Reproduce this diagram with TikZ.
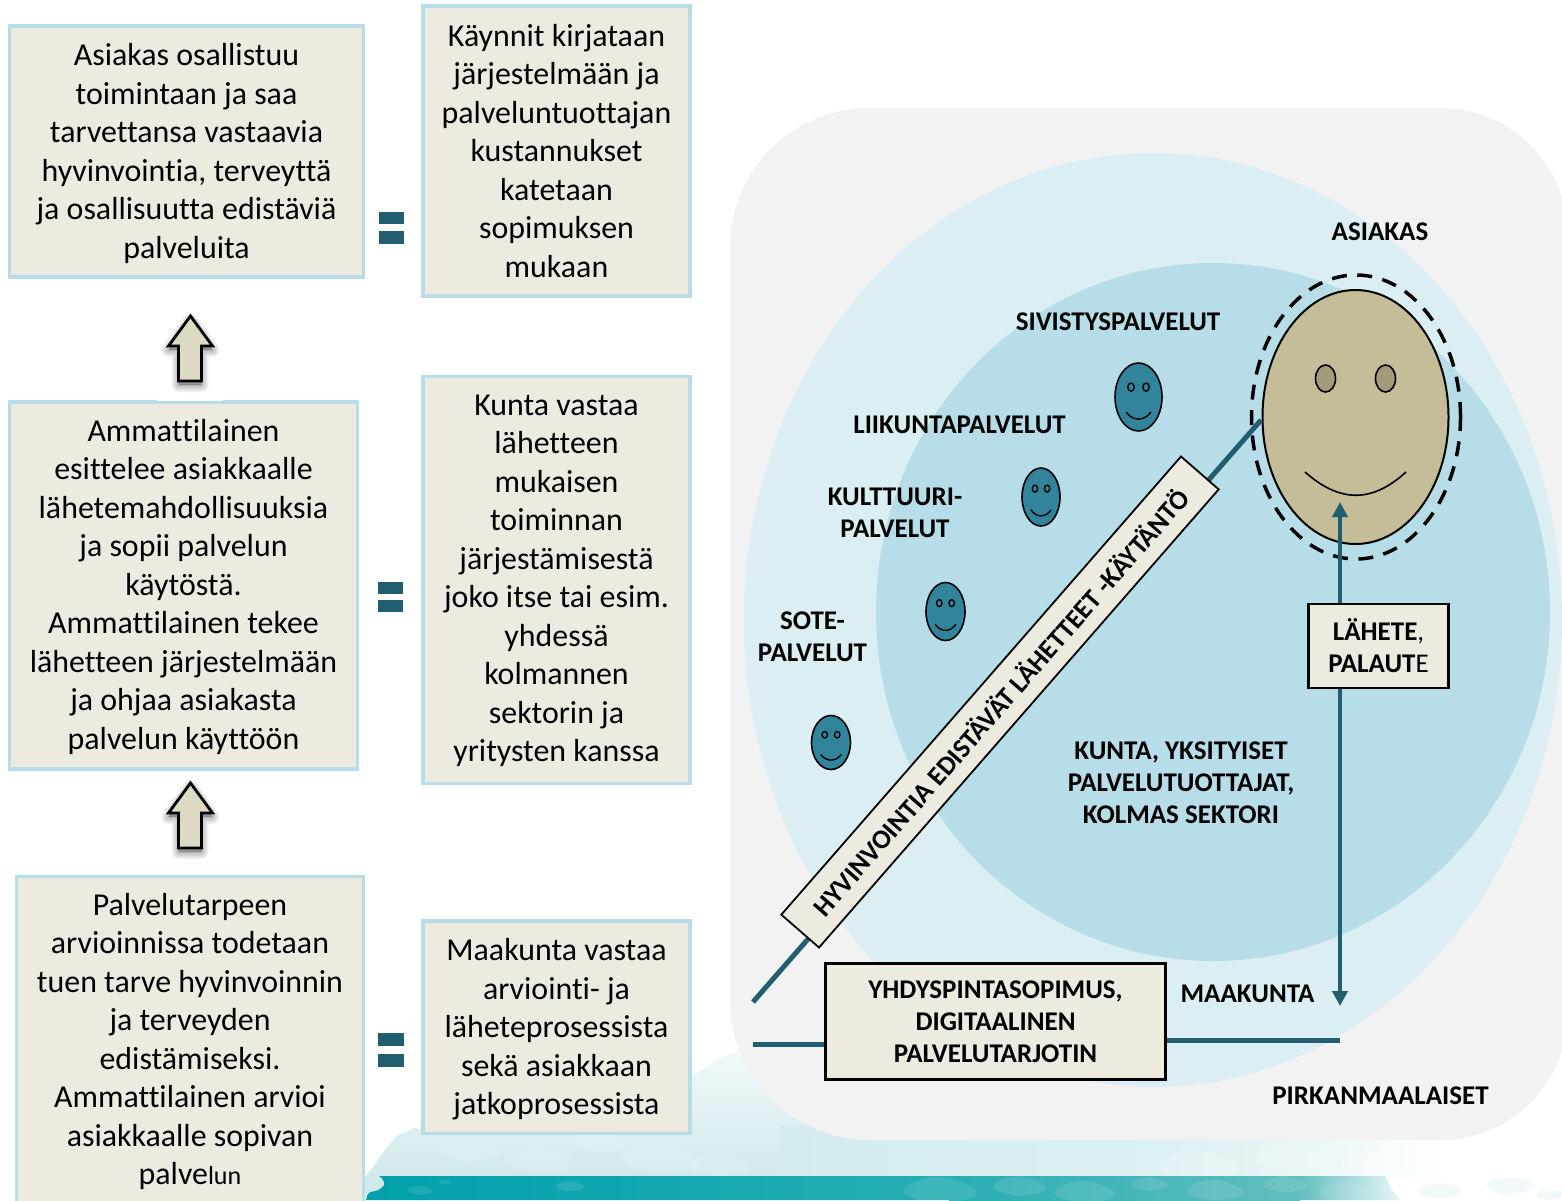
\documentclass[tikz,border=0pt]{standalone}
\usepackage{fontspec}
\setmainfont[Ligatures=CommonOff]{Carlito}
\usetikzlibrary{shapes.geometric,arrows.meta,calc}
\definecolor{boxfill}{HTML}{EDEBE0}
\definecolor{boxedge}{HTML}{B7DDE8}
\definecolor{teal}{HTML}{215F70}
\definecolor{panel}{HTML}{F2F2F2}
\definecolor{outer}{HTML}{DBEEF4}
\definecolor{inner}{HTML}{B7DDE8}
\definecolor{face}{HTML}{C4BD97}
\definecolor{eye}{HTML}{A29A78}
\definecolor{small}{HTML}{31849B}
\definecolor{arrowfill}{HTML}{DDD9C3}
\definecolor{bandA}{HTML}{00A0AC}
\definecolor{bandB}{HTML}{28AEB4}
\definecolor{bandC}{HTML}{62BEBE}
\definecolor{washA}{HTML}{D2E9EC}
\definecolor{washB}{HTML}{DDF0F2}
\definecolor{washC}{HTML}{E8F5F6}
\definecolor{washTop}{HTML}{F1F9FA}
\tikzset{
  x=1pt,y=-1pt,
  infobox/.style={draw=boxedge,line width=3.5pt,fill=boxfill,inner sep=0pt,align=center,
    font=\fontsize{31.9}{38.5}\selectfont},
  blackbox/.style={draw=black,line width=2.2pt,fill=boxfill,inner sep=0pt,align=center,
    font=\fontsize{27}{32}\selectfont\bfseries},
  lab/.style={inner sep=0pt,align=center,font=\fontsize{27}{32}\selectfont\bfseries},
  tealline/.style={draw=teal,line width=5pt},
  eqbar/.style={fill=teal,draw=none,inner sep=0pt},
  faceoval/.style={ellipse,draw=black,inner sep=0pt},
  smalloval/.style={faceoval,fill=small,line width=1.6pt},
  blockarrow/.style={fill=arrowfill,draw=black,line width=2.8pt,line join=miter},
}
\newcommand{\lowered}[2]{\vbox{\vskip #1pt\hbox{\begin{tabular}{@{}c@{}}#2\end{tabular}}}}
\newcommand{\smallface}[5]{% x y rx ry name
  \node[smalloval,minimum width=#3*2pt,minimum height=#4*2pt] (#5) at (#1,#2) {};
  \node[ellipse,draw=black,fill=small,line width=1.4pt,minimum width=0.28*#3pt,minimum height=0.24*#4pt,inner sep=0pt] (#5l) at ($(#1,#2)+(-0.32*#3,-0.29*#4)$) {};
  \node[ellipse,draw=black,fill=small,line width=1.4pt,minimum width=0.28*#3pt,minimum height=0.24*#4pt,inner sep=0pt] (#5r) at ($(#1,#2)+(0.32*#3,-0.29*#4)$) {};
  \draw[line width=1.4pt] ($(#1,#2)+(-0.53*#3,0.44*#4)$) .. controls ($(#1,#2)+(-0.25*#3,0.72*#4)$) and ($(#1,#2)+(0.25*#3,0.72*#4)$) .. ($(#1,#2)+(0.53*#3,0.44*#4)$);
}
\newcommand{\blockup}[2]{% x of tip, y of tip
  \foreach \w in {14,11,8,5,2}{
    \path[draw=black,fill=black,opacity=.055,line width=\w pt,line join=round]
      (#1,#2+4) -- (#1+22,#2+34) -- (#1+11,#2+34) -- (#1+11,#2+69) -- (#1-12,#2+69) -- (#1-12,#2+34) -- (#1-22,#2+34) -- cycle;
  }
  \path[blockarrow] (#1,#2) -- (#1+22,#2+30) -- (#1+11,#2+30) -- (#1+11,#2+65) -- (#1-12,#2+65) -- (#1-12,#2+30) -- (#1-22,#2+30) -- cycle;
}
\newcommand{\blob}[4]{% x y size opacity
  \fill[white,opacity=#4] plot[smooth cycle,tension=.8] coordinates {(#1-#3,#2)(#1-.3*#3,#2-.35*#3)(#1+.5*#3,#2-.25*#3)(#1+#3,#2+.1*#3)(#1+.3*#3,#2+.35*#3)(#1-.5*#3,#2+.3*#3)};
}
\begin{document}
\begin{tikzpicture}
\useasboundingbox (0,0) rectangle (1562,1200);
\clip (0,0) rectangle (1562,1200);
\fill[white] (0,0) rectangle (1562,1200);
% watercolour ground
\shade[top color=washTop,bottom color=washA] (366,1176) -- (372,1168) -- (385,1150) -- (398,1135) -- (415,1128) -- (430,1132) -- (470,1120) -- (520,1108) -- (640,1100) -- (694,1075) -- (720,1058) -- (745,1048) -- (790,1090) -- (960,1176) -- cycle;
\shade[left color=washA!70!washB,right color=washB] (780,1125) rectangle (1160,1177);
\shade[left color=washB,right color=washC] (1160,1125) rectangle (1300,1177);
\shade[left color=washC,right color=white] (1299,1125) rectangle (1440,1177);
\foreach \x/\y/\s in {470/1150/30,540/1160/35,600/1142/28,660/1158/40,720/1165/30}{\blob{\x}{\y}{\s}{.12}}
\foreach \x/\y/\s in {1200/1165/40,1290/1158/36,1370/1165/28}{\blob{\x}{\y}{\s}{.18}}
% teal band
\shade[left color=bandA,right color=bandB] (372,1176) -- (950,1176) -- (950,1200) -- (366,1200) -- cycle;
\shade[left color=bandB,right color=bandC] (949,1176) rectangle (1300,1200);
\shade[left color=bandC,right color=washC] (1299,1176) -- (1385,1176) -- (1392,1190) -- (1400,1200) -- (1299,1200) -- cycle;
\fill[washA] plot[smooth cycle,tension=.8] coordinates {(364,1178)(376,1175)(384,1183)(378,1190)(370,1192)(364,1197)};
\foreach \x/\y/\s in {420/1190/12,445/1182/6,570/1186/14,940/1190/36,1020/1186/26,1085/1192/30,1150/1184/18,1215/1190/28,1285/1184/22,1345/1192/26,1390/1186/12}{\blob{\x}{\y}{\s}{.1}}
\foreach \x/\y/\s in {1440/1190/22,1510/1185/24,1550/1194/14}{\fill[washTop] plot[smooth cycle,tension=.8] coordinates {(\x-\s,\y)(\x,\y-.3*\s)(\x+\s,\y)(\x,\y+.4*\s)};}
% right-hand panel and circles
\fill[panel] [rounded corners=140pt] (730,624) |- (1100,108) [rounded corners=128pt] -| (1568,624) |- (1100,1140) [rounded corners=140pt] -| (730,624) -- cycle;
\node[ellipse,fill=outer,inner sep=0pt,minimum width=818pt,minimum height=934pt] (outercircle) at (1153,620) {};
\node[ellipse,fill=inner,inner sep=0pt,minimum width=674pt,minimum height=698pt] (innercircle) at (1213,612) {};
% left column boxes
\node[infobox,minimum width=354pt,minimum height=251pt] (a) at (186.5,151.5) {\lowered{6}{Asiakas osallistuu\\toimintaan ja saa\\tarvettansa vastaavia\\hyvinvointia, terveyttä\\ja osallisuutta edistäviä\\palveluita}};
\node[infobox,minimum width=267pt,minimum height=290pt] (b) at (556.5,151) {Käynnit kirjataan\\järjestelmään ja\\palveluntuottajan\\kustannukset\\katetaan\\sopimuksen\\mukaan};
\node[infobox,minimum width=348pt,minimum height=367pt] (c) at (183.5,585.5) {\lowered{4}{Ammattilainen\\esittelee asiakkaalle\\lähetemahdollisuuksia\\ja sopii palvelun\\käytöstä.\\Ammattilainen tekee\\lähetteen järjestelmään\\ja ohjaa asiakasta\\palvelun käyttöön}};
\fill[white] (157,396) rectangle (223,400.5);
\node[infobox,minimum width=267pt,minimum height=407pt] (d) at (556.5,580) {\lowered{2}{Kunta vastaa\\lähetteen\\mukaisen\\toiminnan\\järjestämisestä\\joko itse tai esim.\\yhdessä\\kolmannen\\sektorin ja\\yritysten kanssa}};
\node[infobox,minimum width=347pt,minimum height=330pt] (e) at (190,1041.5) {Palvelutarpeen\\arvioinnissa todetaan\\tuen tarve hyvinvoinnin\\ja terveyden\\edistämiseksi.\\Ammattilainen arvioi\\asiakkaalle sopivan\\palve{\fontsize{26}{38.5}\selectfont lun}};
\node[infobox,minimum width=267pt,minimum height=212.5pt] (f) at (556.5,1027) {\lowered{6}{Maakunta vastaa\\arviointi- ja\\läheteprosessista\\sekä asiakkaan\\jatkoprosessista}};
% equals signs
\node[eqbar,minimum width=25pt,minimum height=12.5pt] (eq1a) at (391.5,218) {};
\node[eqbar,minimum width=25pt,minimum height=12.5pt] (eq1b) at (391.5,237.5) {};
\node[eqbar,minimum width=25pt,minimum height=12.5pt] (eq2a) at (390.5,588) {};
\node[eqbar,minimum width=25pt,minimum height=12.5pt] (eq2b) at (390.5,606) {};
\node[eqbar,minimum width=26pt,minimum height=13pt] (eq3a) at (391,1039.5) {};
\node[eqbar,minimum width=26pt,minimum height=13pt] (eq3b) at (391,1060) {};
% block arrows
\blockup{190.5}{316}
\blockup{190.5}{783}
% faces
\node[faceoval,fill=face,line width=2pt,minimum width=186pt,minimum height=254pt] (bigface) at (1355.5,417) {};
\node[ellipse,draw=black,line width=3.5pt,dash pattern=on 15pt off 10.5pt,inner sep=0pt,minimum width=209pt,minimum height=284pt] (dashring) at (1356,417) {};
\node[ellipse,draw=black,fill=eye,line width=1.6pt,minimum width=20pt,minimum height=27pt,inner sep=0pt] (eyel) at (1325.5,378.5) {};
\node[ellipse,draw=black,fill=eye,line width=1.6pt,minimum width=20pt,minimum height=27pt,inner sep=0pt] (eyer) at (1385.5,378.5) {};
\coordinate (smilel) at (1305,472);
\coordinate (smiler) at (1406,472);
\draw[line width=1.6pt] (smilel) .. controls (1340,503) and (1372,503) .. (smiler);
\smallface{1138.5}{397}{23.5}{34}{sf1}
\smallface{1041}{497}{19}{29}{sf2}
\smallface{945.5}{611.5}{19.5}{29}{sf3}
\smallface{831}{742.5}{19.5}{27}{sf4}
% connectors
\coordinate (diagstart) at (753,1002);
\coordinate (diagend) at (1261,420);
\draw[tealline] (diagstart) -- (diagend);
\coordinate (hl) at (753,1044);
\coordinate (hr) at (1340,1040.5);
\coordinate (varrowtop) at (1340,502);
\coordinate (varrowbot) at (1340,1006);
\node[blackbox,minimum width=340pt,minimum height=116pt] (yhdys) at (995.5,1021.5) {YHDYSPINTASOPIMUS,\\DIGITAALINEN\\PALVELUTARJOTIN};
\draw[tealline] (hl) -- (yhdys.west |- hl);
\draw[tealline] (yhdys.east |- hr) -- (hr);
\draw[draw=teal,line width=4.5pt,{Triangle[length=15pt,width=15pt]}-{Triangle[length=15pt,width=15pt]},teal] (varrowtop) -- (varrowbot);
\node[blackbox,minimum width=140pt,minimum height=84pt] (lahete) at (1378.5,646) {LÄHETE{\mdseries ,}\\PALAUT{\mdseries E}};
\node[blackbox,rotate=48.9,minimum width=608pt,minimum height=50pt,line width=1.8pt] (diagbox) at (1000,702) {HYVINVOINTIA EDISTÄVÄT LÄHETTEET -KÄYTÄNTÖ};
% labels
\node[lab] (l1) at (1380,232) {ASIAKAS};
\node[lab] (l2) at (1118,322) {SIVISTYSPALVELUT};
\node[lab] (l3) at (959.5,425) {LIIKUNTAPALVELUT};
\node[lab] (l4) at (895,513) {KULTTUURI-\\PALVELUT};
\node[lab] (l5) at (812.5,637) {SOTE-\\PALVELUT};
\node[lab] (l6) at (1181,783) {KUNTA, YKSITYISET\\PALVELUTUOTTAJAT,\\KOLMAS SEKTORI};
\node[lab] (l7) at (1247.5,994) {MAAKUNTA};
\node[lab] (l8) at (1380.5,1096) {PIRKANMAALAISET};
\end{tikzpicture}
\end{document}
